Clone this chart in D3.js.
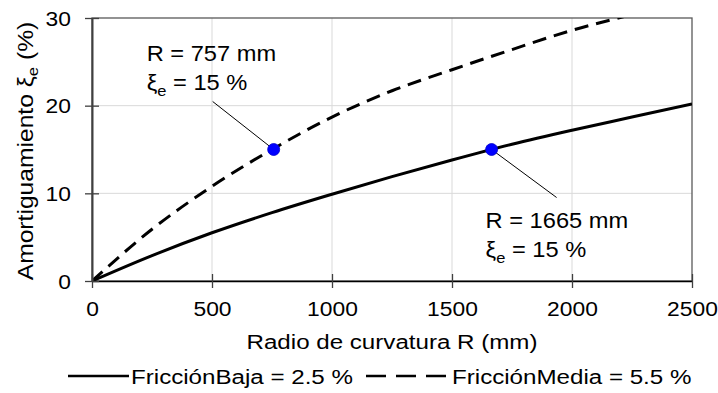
<!DOCTYPE html>
<html>
<head>
<meta charset="utf-8">
<script src="https://cdn.jsdelivr.net/npm/d3@7"></script>
<style>
  body { margin: 0; background: #fff; }
  svg { display: block; font-family: "Liberation Sans", Arial, sans-serif; }
</style>
</head>
<body>
<svg id="chart"></svg>
<script>
// data
var radio = [0, 250, 500, 750, 1000, 1250, 1500, 1750, 2000, 2250, 2500];
var friccionBaja = [0, 2.9, 5.5, 7.8, 9.9, 11.9, 13.8, 15.6, 17.2, 18.7, 20.2];
var friccionMedia = [0, 5.9, 10.8, 15.0, 18.7, 21.7, 24.1, 26.4, 28.6, 30.4, 32.2];
var xTicks = [0, 500, 1000, 1500, 2000, 2500];
var yTicks = [0, 10, 20, 30];
var puntoR = [757, 1665];
var puntoXi = [15, 15];

var w = 718, h = 393;
// plot box (note: "top" is reserved on window)
var pLeft = 92, pRight = 692, pTop = 18, pBottom = 281;

var svg = d3.select("#chart").attr("width", w).attr("height", h);

var x = d3.scaleLinear().domain([0, 2500]).range([pLeft, pRight]);
var y = d3.scaleLinear().domain([0, 30]).range([pBottom, pTop]);

// grid
svg.append("g").selectAll("line").data(xTicks.slice(1, -1)).enter().append("line")
  .attr("x1", function (d) { return x(d); }).attr("x2", function (d) { return x(d); })
  .attr("y1", pTop).attr("y2", pBottom)
  .attr("stroke", "#d9d9d9").attr("stroke-width", 1);
svg.append("g").selectAll("line").data(yTicks.slice(1, -1)).enter().append("line")
  .attr("y1", function (d) { return y(d); }).attr("y2", function (d) { return y(d); })
  .attr("x1", pLeft).attr("x2", pRight)
  .attr("stroke", "#d9d9d9").attr("stroke-width", 1);

// frame
svg.append("rect")
  .attr("x", pLeft).attr("y", pTop).attr("width", pRight - pLeft).attr("height", pBottom - pTop)
  .attr("fill", "none").attr("stroke", "#595959").attr("stroke-width", 1.3);

// curves
svg.append("defs").append("clipPath").attr("id", "clip")
  .append("rect").attr("x", pLeft).attr("y", pTop).attr("width", pRight - pLeft).attr("height", pBottom - pTop);

var line = d3.line()
  .x(function (d) { return x(d[0]); })
  .y(function (d) { return y(d[1]); })
  .curve(d3.curveMonotoneX);

svg.append("path")
  .datum(d3.zip(radio, friccionMedia))
  .attr("clip-path", "url(#clip)")
  .attr("d", line)
  .attr("fill", "none").attr("stroke", "#000").attr("stroke-width", 3)
  .attr("stroke-dasharray", "14,8");

svg.append("path")
  .datum(d3.zip(radio, friccionBaja))
  .attr("clip-path", "url(#clip)")
  .attr("d", line)
  .attr("fill", "none").attr("stroke", "#000").attr("stroke-width", 3);

// axes
var xAxis = d3.axisBottom(x).tickValues(xTicks).tickFormat(d3.format("d")).tickSizeOuter(0);
var gx = svg.append("g").attr("transform", "translate(0," + pBottom + ")").call(xAxis);
gx.select(".domain").attr("stroke", "#000").attr("stroke-width", 1.5);
gx.selectAll(".tick line").attr("y1", -7).attr("y2", 7).attr("stroke", "#404040").attr("stroke-width", 1.3);
gx.selectAll(".tick text")
  .attr("y", 35).attr("dy", 0)
  .attr("transform", "scale(1.17,1)")
  .attr("x", 0)
  .style("font-size", "19.5px").attr("fill", "#000").attr("font-family", null);

var yAxis = d3.axisLeft(y).tickValues(yTicks).tickFormat(d3.format("d")).tickSizeOuter(0);
var gy = svg.append("g").attr("transform", "translate(" + pLeft + ",0)").call(yAxis);
gy.select(".domain").attr("stroke", "#404040").attr("stroke-width", 2);
gy.selectAll(".tick line").attr("x1", -7).attr("x2", 7).attr("stroke", "#404040").attr("stroke-width", 1.3);
gy.selectAll(".tick text")
  .attr("x", -18).attr("dy", "0.36em")
  .attr("transform", "scale(1.17,1)")
  .style("font-size", "19.5px").attr("fill", "#000").attr("font-family", null);

// axis titles
svg.append("text")
  .attr("transform", "translate(392,349) scale(1.15,1)")
  .attr("text-anchor", "middle")
  .style("font-size", "21px")
  .text("Radio de curvatura R (mm)");

var yt = svg.append("text")
  .attr("transform", "translate(33,151) rotate(-90) scale(1.12,1)")
  .attr("text-anchor", "middle")
  .style("font-size", "22px");
yt.append("tspan").text("Amortiguamiento ξ");
yt.append("tspan").attr("dy", 5).style("font-size", "15px").text("e");
yt.append("tspan").attr("dy", -5).text(" (%)");

// annotations
var offsets = [
  {lx: -61, ly: -48, tx: -127, ty: -89},
  {lx: 65, ly: 48, tx: -6, ty: 78}
];

puntoR.forEach(function (r, i) {
  var cx = x(r), cy = y(puntoXi[i]), o = offsets[i];
  svg.append("line")
    .attr("x1", cx).attr("y1", cy).attr("x2", cx + o.lx).attr("y2", cy + o.ly)
    .attr("stroke", "#000").attr("stroke-width", 1);
  svg.append("circle")
    .attr("cx", cx).attr("cy", cy).attr("r", 6)
    .attr("fill", "#0000ff").attr("stroke", "#0000cc").attr("stroke-width", 0.8);

  svg.append("text")
    .attr("transform", "translate(" + (cx + o.tx) + "," + (cy + o.ty) + ") scale(1.1,1)")
    .style("font-size", "21.5px")
    .text("R = " + r + " mm");
  var t2 = svg.append("text")
    .attr("transform", "translate(" + (cx + o.tx) + "," + (cy + o.ty + 29) + ") scale(1.1,1)")
    .style("font-size", "21.5px");
  t2.append("tspan").text("ξ");
  t2.append("tspan").attr("dy", 6).style("font-size", "15px").text("e");
  t2.append("tspan").attr("dy", -6).text(" = " + puntoXi[i] + " %");
});

// legend
var leg = svg.append("g");
leg.append("line").attr("x1", 68).attr("x2", 129).attr("y1", 376).attr("y2", 376)
  .attr("stroke", "#000").attr("stroke-width", 2.5);
leg.append("text").attr("transform", "translate(131,384) scale(1.15,1)")
  .style("font-size", "21px").text("FricciónBaja = 2.5 %");
leg.append("line").attr("x1", 366).attr("x2", 450).attr("y1", 376).attr("y2", 376)
  .attr("stroke", "#000").attr("stroke-width", 2.5).attr("stroke-dasharray", "20,10");
leg.append("text").attr("transform", "translate(452,384) scale(1.15,1)")
  .style("font-size", "21px").text("FricciónMedia = 5.5 %");
</script>
</body>
</html>
